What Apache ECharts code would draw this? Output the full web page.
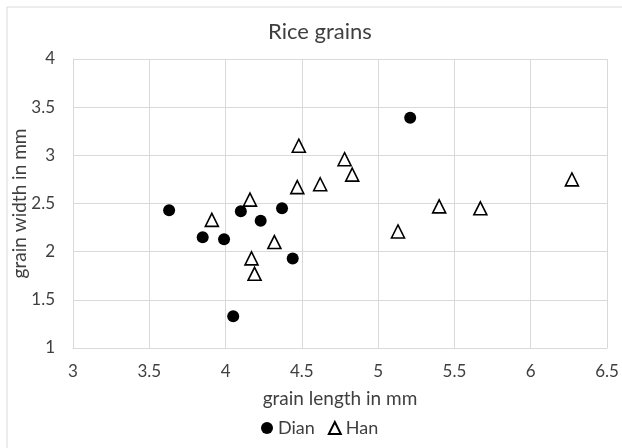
<!DOCTYPE html>
<html><head><meta charset="utf-8">
<script src="https://cdn.jsdelivr.net/npm/echarts@6/dist/echarts.min.js"></script>
<style>html,body{margin:0;padding:0;background:#fff}#c{width:622px;height:448px}</style>
</head><body><div id="c"></div>
<script>
var dianLength = [3.63, 3.85, 3.99, 4.10, 4.23, 4.37, 4.44, 4.05, 5.21];
var dianWidth  = [2.43, 2.15, 2.13, 2.42, 2.32, 2.45, 1.93, 1.33, 3.39];
var hanLength = [3.91, 4.16, 4.17, 4.19, 4.32, 4.47, 4.48, 4.62, 4.78, 4.83, 5.13, 5.40, 5.67, 6.27];
var hanWidth  = [2.33, 2.54, 1.93, 1.77, 2.10, 2.67, 3.10, 2.70, 2.96, 2.80, 2.21, 2.47, 2.45, 2.75];
var xTicks = [3, 3.5, 4, 4.5, 5, 5.5, 6, 6.5];
var yTicks = [1, 1.5, 2, 2.5, 3, 3.5, 4];

function pairs(a, b) { return a.map(function (v, i) { return [v, b[i]]; }); }
var font = 'Lato, "Open Sans", sans-serif';
var grey = '#3f3f3f';
var chart = echarts.init(document.getElementById('c'), null, {renderer: 'canvas'});
chart.setOption({
  animation: false,
  backgroundColor: '#fff',
  textStyle: {fontFamily: font},
  graphic: [{type: 'rect', shape: {x: 7, y: 7, width: 800, height: 800}, style: {fill: 'none', stroke: '#d9d9d9', lineWidth: 1}, silent: true, z: -10}],
  title: {text: 'Rice grains', left: 263, top: 16, textStyle: {fontFamily: font, fontSize: 22, fontWeight: 'normal', color: grey}},
  grid: {left: 73, right: 15, top: 59, bottom: 100, containLabel: false, outerBoundsMode: 'none'},
  xAxis: {
    type: 'value', min: xTicks[0], max: xTicks[xTicks.length - 1], interval: 0.5,
    name: 'grain length in mm', nameLocation: 'middle', nameGap: 41, nameMoveOverlap: false,
    nameTextStyle: {fontFamily: font, fontSize: 19, color: grey},
    axisLine: {show: true, lineStyle: {color: '#d9d9d9'}}, axisTick: {show: false},
    axisLabel: {fontFamily: font, fontSize: 17, color: grey, margin: 15},
    splitLine: {show: true, lineStyle: {color: '#d9d9d9', width: 1}}
  },
  yAxis: {
    type: 'value', min: yTicks[0], max: yTicks[yTicks.length - 1], interval: 0.5,
    name: 'grain width in mm', nameLocation: 'middle', nameGap: 44, nameMoveOverlap: false,
    nameTextStyle: {fontFamily: font, fontSize: 19, color: grey},
    axisLine: {show: true, lineStyle: {color: '#d9d9d9'}}, axisTick: {show: false},
    axisLabel: {fontFamily: font, fontSize: 17, color: grey, margin: 18},
    splitLine: {show: true, lineStyle: {color: '#d9d9d9', width: 1}}
  },
  legend: {
    left: 256, top: 414, itemWidth: 12, itemHeight: 12, itemGap: 13,
    textStyle: {fontFamily: font, fontSize: 18, color: grey},
    data: [{name: 'Dian', icon: 'circle'}, {name: 'Han', icon: 'triangle'}]
  },
  series: [
    {name: 'Dian', type: 'scatter', symbol: 'circle', symbolSize: 12, data: pairs(dianLength, dianWidth),
     itemStyle: {color: '#000', borderColor: '#000', borderWidth: 0, opacity: 1}},
    {name: 'Han', type: 'scatter', symbol: 'triangle', symbolSize: 13, data: pairs(hanLength, hanWidth),
     itemStyle: {color: '#fff', borderColor: '#000', borderWidth: 1.6, opacity: 1}}
  ]
});
</script></body></html>
